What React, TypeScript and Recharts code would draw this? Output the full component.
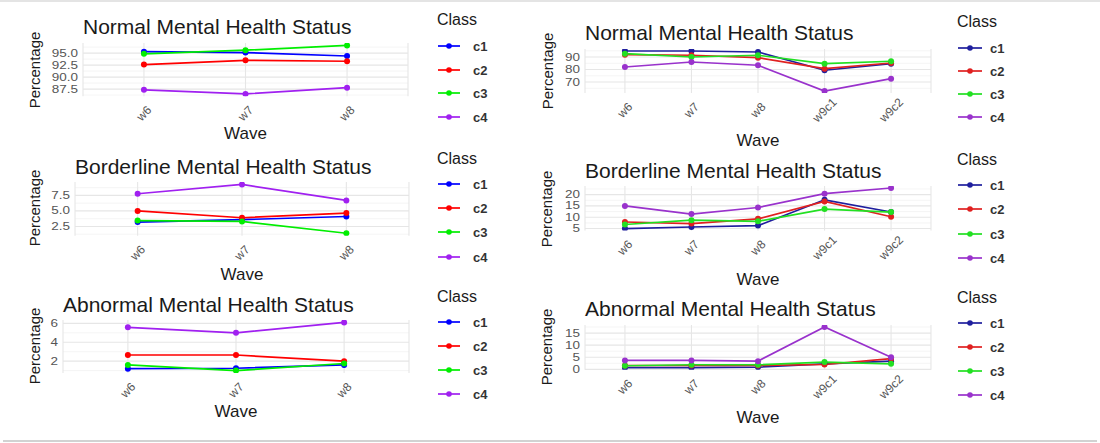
import { LineChart, Line, XAxis, YAxis, CartesianGrid } from 'recharts'

const wavesShort = ['w6', 'w7', 'w8']
const wavesLong = ['w6', 'w7', 'w8', 'w9c1', 'w9c2']
const classes = ['c1', 'c2', 'c3', 'c4']

// left column: waves 6-8
const normalShortC1 = [95.3, 95.1, 94.4]
const normalShortC2 = [92.6, 93.5, 93.3]
const normalShortC3 = [94.85, 95.6, 96.6]
const normalShortC4 = [87.35, 86.5, 87.8]

const borderShortC1 = [3.2, 3.6, 4.1]
const borderShortC2 = [5.0, 3.9, 4.65]
const borderShortC3 = [3.45, 3.3, 1.4]
const borderShortC4 = [7.77, 9.27, 6.69]

const abnormalShortC1 = [1.2, 1.25, 1.6]
const abnormalShortC2 = [2.65, 2.65, 2.0]
const abnormalShortC3 = [1.6, 1.0, 1.75]
const abnormalShortC4 = [5.58, 5.0, 6.1]

// right column: waves 6 to 9 (two cohorts)
const normalLongC1 = [94.8, 94.8, 94.0, 79.4, 84.7]
const normalLongC2 = [91.9, 91.4, 89.5, 80.7, 85.2]
const normalLongC3 = [92.7, 90.0, 91.4, 84.7, 86.6]
const normalLongC4 = [82.0, 86.0, 83.4, 62.8, 72.7]

const borderLongC1 = [5.0, 5.7, 6.3, 17.7, 12.3]
const borderLongC2 = [7.9, 7.2, 9.3, 17.0, 10.2]
const borderLongC3 = [6.8, 8.7, 8.2, 13.6, 12.3]
const borderLongC4 = [15.0, 11.4, 14.3, 20.4, 22.9]

const abnormalLongC1 = [0.7, 0.7, 0.9, 2.3, 3.4]
const abnormalLongC2 = [1.6, 1.6, 1.6, 2.0, 4.4]
const abnormalLongC3 = [1.5, 1.9, 1.9, 3.0, 2.3]
const abnormalLongC4 = [3.7, 3.7, 3.4, 17.5, 5.0]

// axis breaks
const normalShortTicks = [87.5, 90, 92.5, 95]
const normalShortMinor = [86.25, 88.75, 91.25, 93.75, 96.25]
const borderShortTicks = [2.5, 5, 7.5]
const borderShortMinor = [1.25, 3.75, 6.25, 8.75]
const abnormalShortTicks = [2, 4, 6]
const abnormalShortMinor = [1, 3, 5]
const normalLongTicks = [70, 80, 90]
const normalLongMinor = [65, 75, 85, 95]
const borderLongTicks = [5, 10, 15, 20]
const borderLongMinor = [7.5, 12.5, 17.5, 22.5]
const abnormalLongTicks = [0, 5, 10, 15]
const abnormalLongMinor = [2.5, 7.5, 12.5, 17.5]

const leftColors = ['#0000ff', '#ff0000', '#00ee00', '#a020f0']
const rightColors = ['#1f1f9e', '#e02020', '#22e022', '#9932cc']

const FONT = '"Liberation Sans", Arial, sans-serif'
const YW = 40
const XH = 32

function XTick(props: any) {
  const { x, y, payload } = props
  const cy = y + 9
  return (
    <text
      x={x}
      y={cy}
      dy="0.35em"
      textAnchor="middle"
      fill="#555"
      fontSize={12}
      fontFamily={FONT}
      transform={`rotate(-45, ${x}, ${cy})`}
    >
      {payload.value}
    </text>
  )
}

function YTick(props: any) {
  const { x, y, payload, decimals } = props
  return (
    <g transform={`translate(${x + 3},${y}) scale(1.35,1)`}>
      <text x={0} y={0} dy="0.35em" textAnchor="end" fill="#555" fontSize={10} fontFamily={FONT}>
        {Number(payload.value).toFixed(decimals)}
      </text>
    </g>
  )
}

interface PanelProps {
  title: string
  waves: string[]
  series: number[][]
  ticks: number[]
  minor: number[]
  decimals: number
  colors: string[]
  l: number
  r: number
  t: number
  b: number
  titleY: number
  pctX: number
  waveY: number
  legendX: number
  legendY: number
  legendGap: number
}

function Panel(p: PanelProps) {
  const data = p.waves.map((w, i) => {
    const row: Record<string, any> = { wave: w }
    classes.forEach((c, k) => (row[c] = p.series[k][i]))
    return row
  })
  const all = p.series.flat()
  const lo = Math.min(...all)
  const hi = Math.max(...all)
  const pad = (hi - lo) * 0.05
  const w = p.r - p.l
  const xPad = (0.6 * w) / (p.waves.length - 1 + 1.2)
  const isRight = p.legendX > 800

  return (
    <>
      <div
        style={{
          position: 'absolute',
          left: p.l,
          top: p.titleY,
          transform: 'translateY(-50%)',
          fontSize: 21,
          lineHeight: 1,
          color: '#1a1a1a',
          whiteSpace: 'nowrap',
        }}
      >
        {p.title}
      </div>
      <div
        style={{
          position: 'absolute',
          left: p.pctX,
          top: (p.t + p.b) / 2,
          transform: 'translate(-50%, -50%) rotate(-90deg)',
          fontSize: 15,
          lineHeight: 1,
          color: '#1a1a1a',
          whiteSpace: 'nowrap',
        }}
      >
        Percentage
      </div>
      <div
        style={{
          position: 'absolute',
          left: (p.l + p.r) / 2,
          top: p.waveY,
          transform: 'translate(-50%, -50%)',
          fontSize: 17,
          lineHeight: 1,
          color: '#1a1a1a',
        }}
      >
        Wave
      </div>
      <div style={{ position: 'absolute', left: p.l - YW, top: p.t - 6 }}>
        <LineChart
          width={w + YW + 6}
          height={p.b - p.t + 6 + XH}
          data={data}
          margin={{ top: 6, right: 6, left: 0, bottom: 0 }}
          style={{ overflow: 'visible' }}
        >
          <CartesianGrid vertical={false} horizontalValues={p.minor} stroke="#f0f0f0" strokeWidth={0.7} />
          <CartesianGrid horizontalValues={p.ticks} stroke="#e6e6e6" strokeWidth={1.1} />
          <XAxis
            dataKey="wave"
            type="category"
            axisLine={false}
            tickLine={false}
            interval={0}
            height={XH}
            padding={{ left: xPad, right: xPad }}
            tick={(props: any) => <XTick {...props} />}
          />
          <YAxis
            type="number"
            domain={[lo - pad, hi + pad]}
            ticks={p.ticks}
            interval={0}
            minTickGap={0}
            allowDataOverflow
            axisLine={false}
            tickLine={false}
            width={YW}
            tick={(props: any) => <YTick {...props} decimals={p.decimals} />}
          />
          {classes.map((c, k) => (
            <Line
              key={c}
              type="linear"
              dataKey={c}
              stroke={p.colors[k]}
              strokeWidth={1.7}
              dot={{ r: 3, fill: p.colors[k], stroke: p.colors[k], strokeWidth: 0 }}
              activeDot={false}
              isAnimationActive={false}
            />
          ))}
        </LineChart>
      </div>
      {/* legend */}
      <div
        style={{
          position: 'absolute',
          left: p.legendX,
          top: p.legendY - 25.5,
          transform: 'translateY(-50%)',
          fontSize: 16,
          lineHeight: 1,
          color: '#1a1a1a',
        }}
      >
        Class
      </div>
      {classes.map((c, k) => {
        const y = p.legendY + k * p.legendGap
        const sw = isRight ? 24 : 22
        return (
          <div key={c} style={{ position: 'absolute', left: p.legendX + 1, top: y - 6, height: 12 }}>
            <svg width={sw} height={12} style={{ position: 'absolute', left: 0, top: 0 }}>
              <line x1={0} y1={6} x2={sw} y2={6} stroke={p.colors[k]} strokeWidth={1.7} />
              <circle cx={sw / 2} cy={6} r={2.8} fill={p.colors[k]} />
            </svg>
            <span
              style={{
                position: 'absolute',
                left: isRight ? 32 : 35,
                top: 6,
                transform: 'translateY(-50%)',
                fontSize: 13,
                fontWeight: 'bold',
                lineHeight: 1,
                color: '#333',
              }}
            >
              {c}
            </span>
          </div>
        )
      })}
    </>
  )
}

export default function App() {
  return (
    <div
      style={{
        position: 'relative',
        width: 1100,
        height: 443,
        background: '#fff',
        fontFamily: FONT,
        overflow: 'hidden',
      }}
    >
      <style>{`body{margin:0}`}</style>
      <div style={{ position: 'absolute', left: 0, top: 0, width: 1100, height: 2, background: '#e4e4e4' }} />
      <div style={{ position: 'absolute', left: 3, top: 440, width: 1094, height: 2, background: '#d2d2d2' }} />

      <Panel
        title="Normal Mental Health Status"
        waves={wavesShort}
        series={[normalShortC1, normalShortC2, normalShortC3, normalShortC4]}
        ticks={normalShortTicks}
        minor={normalShortMinor}
        decimals={1}
        colors={leftColors}
        l={83}
        r={408}
        t={43.2}
        b={96.5}
        titleY={25.5}
        pctX={34}
        waveY={133}
        legendX={437}
        legendY={45.7}
        legendGap={23.8}
      />
      <Panel
        title="Borderline Mental Health Status"
        waves={wavesShort}
        series={[borderShortC1, borderShortC2, borderShortC3, borderShortC4]}
        ticks={borderShortTicks}
        minor={borderShortMinor}
        decimals={1}
        colors={leftColors}
        l={75}
        r={409}
        t={181.6}
        b={235.3}
        titleY={166}
        pctX={34}
        waveY={273.5}
        legendX={437}
        legendY={184}
        legendGap={24.2}
      />
      <Panel
        title="Abnormal Mental Health Status"
        waves={wavesShort}
        series={[abnormalShortC1, abnormalShortC2, abnormalShortC3, abnormalShortC4]}
        ticks={abnormalShortTicks}
        minor={abnormalShortMinor}
        decimals={0}
        colors={leftColors}
        l={63}
        r={409}
        t={319.9}
        b={372.9}
        titleY={304}
        pctX={34}
        waveY={411}
        legendX={437}
        legendY={322.3}
        legendGap={24}
      />
      <Panel
        title="Normal Mental Health Status"
        waves={wavesLong}
        series={[normalLongC1, normalLongC2, normalLongC3, normalLongC4]}
        ticks={normalLongTicks}
        minor={normalLongMinor}
        decimals={0}
        colors={rightColors}
        l={585}
        r={931}
        t={48.7}
        b={92.7}
        titleY={32}
        pctX={547}
        waveY={140}
        legendX={957}
        legendY={47.5}
        legendGap={23.2}
      />
      <Panel
        title="Borderline Mental Health Status"
        waves={wavesLong}
        series={[borderLongC1, borderLongC2, borderLongC3, borderLongC4]}
        ticks={borderLongTicks}
        minor={borderLongMinor}
        decimals={0}
        colors={rightColors}
        l={585}
        r={931}
        t={186.4}
        b={231}
        titleY={169.5}
        pctX={546}
        waveY={278.5}
        legendX={957}
        legendY={185}
        legendGap={24.4}
      />
      <Panel
        title="Abnormal Mental Health Status"
        waves={wavesLong}
        series={[abnormalLongC1, abnormalLongC2, abnormalLongC3, abnormalLongC4]}
        ticks={abnormalLongTicks}
        minor={abnormalLongMinor}
        decimals={0}
        colors={rightColors}
        l={585}
        r={931}
        t={324.6}
        b={369.3}
        titleY={308}
        pctX={546}
        waveY={416.5}
        legendX={957}
        legendY={323.3}
        legendGap={23.9}
      />
    </div>
  )
}
